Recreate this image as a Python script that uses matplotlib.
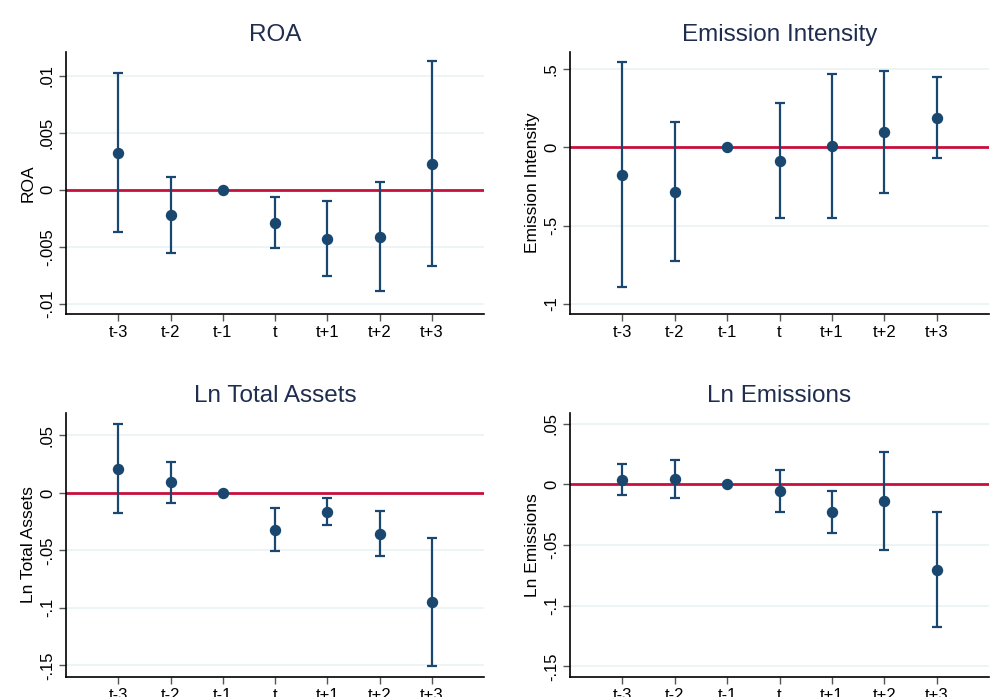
import numpy as np
import matplotlib
matplotlib.use('Agg')
import matplotlib.pyplot as plt

plt.rcParams['font.family'] = ['Liberation Sans', 'DejaVu Sans']

# Event time labels
periods = ['t-3', 't-2', 't-1', 't', 't+1', 't+2', 't+3']

# ROA
roa_coef = [0.00321, -0.00222, 0.0, -0.00289, -0.00429, -0.00414, 0.00222]
roa_hi = [0.01025, 0.00114, 0.0, -0.00064, -0.00102, 0.00064, 0.01124]
roa_lo = [-0.00374, -0.00552, 0.0, -0.00511, -0.00753, -0.00887, -0.00671]

# Emission Intensity
ei_coef = [-0.174, -0.283, 0.0, -0.085, 0.009, 0.096, 0.191]
ei_hi = [0.544, 0.162, 0.0, 0.287, 0.472, 0.489, 0.451]
ei_lo = [-0.889, -0.723, 0.0, -0.453, -0.451, -0.292, -0.066]

# Ln Total Assets
ta_coef = [0.0209, 0.0093, 0.0, -0.032, -0.0166, -0.0355, -0.0951]
ta_hi = [0.0599, 0.0273, 0.0, -0.0128, -0.0044, -0.0154, -0.039]
ta_lo = [-0.0177, -0.0084, 0.0, -0.0506, -0.0282, -0.0552, -0.1509]

# Ln Emissions
em_coef = [0.0036, 0.0044, 0.0, -0.0052, -0.0229, -0.0135, -0.0702]
em_hi = [0.0169, 0.0204, 0.0, 0.0122, -0.0055, 0.0268, -0.0227]
em_lo = [-0.0091, -0.0113, 0.0, -0.0224, -0.0401, -0.0539, -0.1177]

navy = '#1a476f'
red = '#c8103c'
grid = '#eaf2f3'

W, H = 1001, 697


def panel(rect, title, coef, hi, lo, yticks, yticklabels, ylim):
	l, t, r, b = rect
	ax = fig.add_axes([l / W, (H - b) / H, (r - l) / W, (b - t) / H])
	x = np.arange(1, len(periods) + 1)
	coef = np.array(coef)
	err = [coef - np.array(lo), np.array(hi) - coef]
	for yt in yticks:
		ax.axhline(yt, color=grid, lw=1.2, zorder=0)
	ax.axhline(0, color=red, lw=2, zorder=1)
	ax.errorbar(x, coef, yerr=err, fmt='o', color=navy, ms=7.2, elinewidth=1.6,
		capsize=3.6, capthick=1.6, zorder=3)
	ax.set_xlim(0, 8)
	ax.set_ylim(*ylim)
	ax.set_xticks(x)
	ax.set_xticklabels(periods, fontsize=12)
	ax.set_yticks(yticks)
	ax.set_yticklabels(yticklabels, fontsize=12, rotation=90, va='center')
	ax.tick_params(axis='both', length=5, width=1, color='#555555', pad=3)
	ax.spines['top'].set_visible(False)
	ax.spines['right'].set_visible(False)
	ax.spines['left'].set_linewidth(1.2)
	ax.spines['bottom'].set_linewidth(1.2)
	ax.set_ylabel(title, fontsize=12.5, labelpad=3)
	ax.set_title(title, fontsize=17.5, color='#1f2d4e', pad=8)
	return ax


fig = plt.figure(figsize=(W / 100, H / 100), dpi=100)

panel((66, 52, 484, 314), 'ROA', roa_coef, roa_hi, roa_lo,
	[0.01, 0.005, 0, -0.005, -0.01], ['.01', '.005', '0', '-.005', '-.01'], (-0.01088, 0.01207))
panel((570, 52, 989, 314), 'Emission Intensity', ei_coef, ei_hi, ei_lo,
	[0.5, 0, -0.5, -1], ['.5', '0', '-.5', '-1'], (-1.064, 0.61))
panel((66, 413, 484, 677), 'Ln Total Assets', ta_coef, ta_hi, ta_lo,
	[0.05, 0, -0.05, -0.1, -0.15], ['.05', '0', '-.05', '-.1', '-.15'], (-0.1602, 0.0695))
panel((570, 413, 989, 677), 'Ln Emissions', em_coef, em_hi, em_lo,
	[0.05, 0, -0.05, -0.1, -0.15], ['.05', '0', '-.05', '-.1', '-.15'], (-0.1588, 0.0588))

fig.savefig('out.png', dpi=100)
